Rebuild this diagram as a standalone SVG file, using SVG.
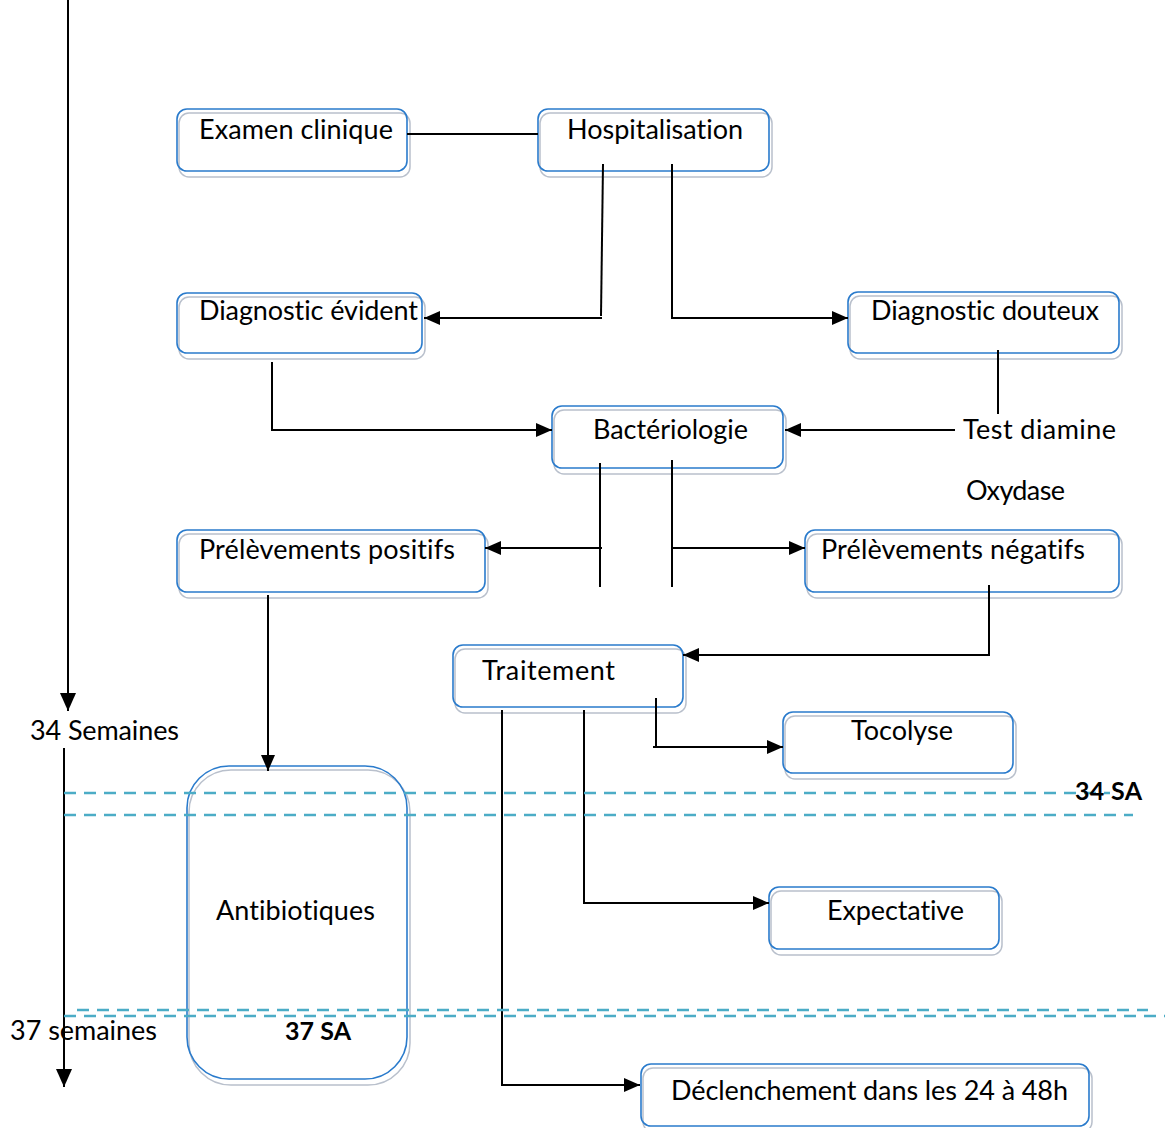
<svg xmlns="http://www.w3.org/2000/svg" width="1165" height="1128" viewBox="0 0 1165 1128">
<style>
text{font-family:"Lato","Liberation Sans",sans-serif;font-size:27px;fill:#000;font-variant-ligatures:none}
.b{font-weight:bold;font-size:25px}
.sh{fill:#fff;stroke:#b9c0cc;stroke-width:1.5}
.bx{fill:none;stroke:#2a7bcc;stroke-width:1.6}
.c{fill:none;stroke:#000;stroke-width:2}
.d{fill:none;stroke:#4bacc6;stroke-width:2.5;stroke-dasharray:12 8}
</style>
<defs>
<marker id="a" markerWidth="16" markerHeight="14" refX="16" refY="7" orient="auto" markerUnits="userSpaceOnUse"><path d="M0,0L16,7L0,14z" fill="#000"/></marker>
<marker id="ax" markerWidth="18" markerHeight="16" refX="18" refY="8" orient="auto" markerUnits="userSpaceOnUse"><path d="M0,0L18,8L0,16z" fill="#000"/></marker>
</defs>
<g id="nodes">
<g id="examen"><rect class="sh" x="179" y="113" width="231" height="64" rx="10"/><rect class="bx" x="177" y="109" width="230" height="62" rx="10"/><text x="199" y="139" textLength="194">Examen clinique</text></g>
<g id="hospitalisation"><rect class="sh" x="540" y="113" width="232" height="64" rx="10"/><rect class="bx" x="538" y="109" width="231" height="62" rx="10"/><text x="567" y="139" textLength="176">Hospitalisation</text></g>
<g id="diag-evident"><rect class="sh" x="179" y="297" width="246" height="62" rx="10"/><rect class="bx" x="177" y="293" width="245" height="60" rx="10"/><text x="199" y="320" textLength="219">Diagnostic évident</text></g>
<g id="diag-douteux"><rect class="sh" x="850" y="296" width="272" height="63" rx="10"/><rect class="bx" x="848" y="292" width="271" height="61" rx="10"/><text x="871" y="320" textLength="228">Diagnostic douteux</text></g>
<g id="bacterio"><rect class="sh" x="554" y="410" width="232" height="64" rx="10"/><rect class="bx" x="552" y="406" width="231" height="62" rx="10"/><text x="593" y="439" textLength="155">Bactériologie</text></g>
<g id="test"><text x="963" y="439" textLength="153">Test diamine</text><text x="966" y="500" textLength="99">Oxydase</text></g>
<g id="prel-pos"><rect class="sh" x="179" y="534" width="309" height="64" rx="10"/><rect class="bx" x="177" y="530" width="308" height="62" rx="10"/><text x="199" y="559" textLength="256">Prélèvements positifs</text></g>
<g id="prel-neg"><rect class="sh" x="807" y="534" width="315" height="64" rx="10"/><rect class="bx" x="805" y="530" width="314" height="62" rx="10"/><text x="821" y="559" textLength="264">Prélèvements négatifs</text></g>
<g id="traitement"><rect class="sh" x="455" y="649" width="231" height="64" rx="10"/><rect class="bx" x="453" y="645" width="230" height="62" rx="10"/><text x="482" y="680" textLength="133">Traitement</text></g>
<g id="tocolyse"><rect class="sh" x="785" y="716" width="231" height="63" rx="10"/><rect class="bx" x="783" y="712" width="230" height="61" rx="10"/><text x="851" y="740" textLength="102">Tocolyse</text></g>
<g id="antibio"><rect class="sh" x="189" y="770" width="221" height="315" rx="42"/><rect class="bx" x="187" y="766" width="220" height="313" rx="42"/><text x="216" y="920" textLength="159">Antibiotiques</text><text class="b" x="285" y="1040" textLength="66">37 SA</text></g>
<g id="expectative"><rect class="sh" x="771" y="891" width="231" height="64" rx="10"/><rect class="bx" x="769" y="887" width="230" height="62" rx="10"/><text x="827" y="920" textLength="137">Expectative</text></g>
<g id="declenchement"><rect class="sh" x="643" y="1068" width="449" height="64" rx="10"/><rect class="bx" x="641" y="1064" width="448" height="62" rx="10"/><text x="671" y="1100" textLength="397">Déclenchement dans les 24 à 48h</text></g>
</g>
<g id="connectors">
<path class="c" d="M407,134H538"/>
<path class="c" d="M603,164L601,316"/>
<path class="c" d="M602,318H424" marker-end="url(#a)"/>
<path class="c" d="M672,164V318H848" marker-end="url(#a)"/>
<path class="c" d="M272,362V430H552" marker-end="url(#a)"/>
<path class="c" d="M998,350V414"/>
<path class="c" d="M955,430H785" marker-end="url(#a)"/>
<path class="c" d="M600,463V587M672,460V587"/>
<path class="c" d="M602,548H485" marker-end="url(#a)"/>
<path class="c" d="M673,548H805" marker-end="url(#a)"/>
<path class="c" d="M268,595V771" marker-end="url(#a)"/>
<path class="c" d="M989,585V655H683" marker-end="url(#a)"/>
<path class="c" d="M656,698V747"/>
<path class="c" d="M653,747H783" marker-end="url(#a)"/>
<path class="c" d="M584,710V903H769" marker-end="url(#a)"/>
<path class="c" d="M502,710V1085H640" marker-end="url(#a)"/>
</g>
<g id="axis">
<path class="c" d="M68,0V711" marker-end="url(#ax)"/>
<path class="c" d="M64,748V1087" marker-end="url(#ax)"/>
<text x="30" y="740" textLength="149">34 Semaines</text>
<text x="10" y="1040" textLength="147">37 semaines</text>
</g>
<g id="limits">
<path class="d" d="M64,793H1110"/>
<path class="d" d="M64,815H1133"/>
<path class="d" d="M77,1010H1148"/>
<path class="d" d="M64,1016H1165"/>
<text class="b" x="1075" y="800" textLength="67">34 SA</text>
</g>
</svg>
